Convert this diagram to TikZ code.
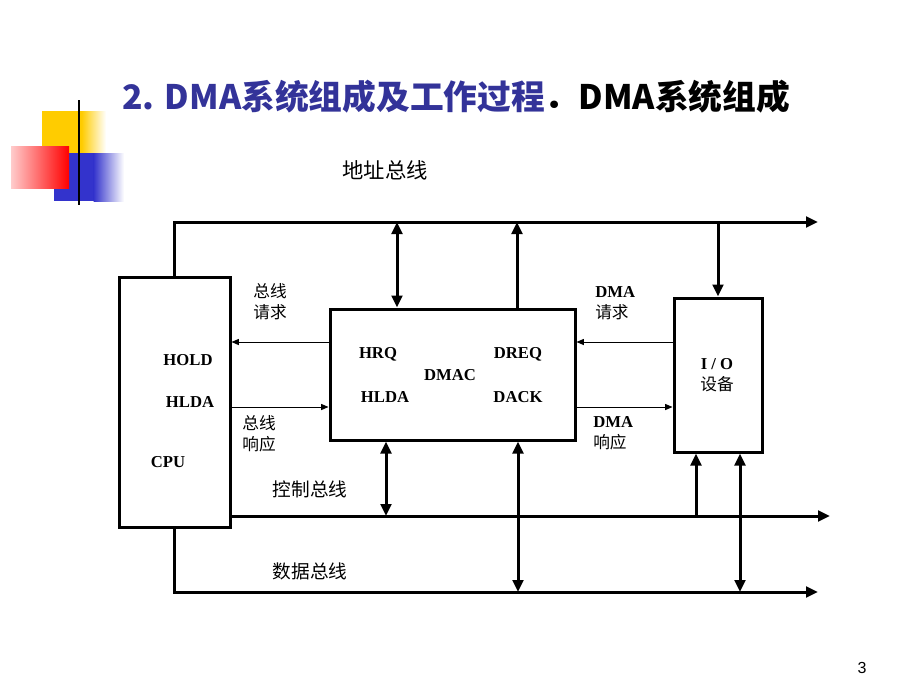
\documentclass[tikz,border=0pt]{standalone}
\usepackage{fontspec}
\setmainfont{Liberation Serif}
\setsansfont{Liberation Sans}
\newfontfamily\cjk{Noto Sans CJK SC}
\usetikzlibrary{arrows.meta,fit}
\definecolor{tblue}{RGB}{51,51,153}
\definecolor{dyellow}{RGB}{255,204,0}
\definecolor{dred}{RGB}{255,0,0}
\definecolor{dblue}{RGB}{51,51,204}
\tikzset{
  box/.style={draw, line width=2.25pt, inner sep=0pt},
  bus/.style={line width=2.25pt},
  sig/.style={line width=0.75pt},
  big/.style={-{Triangle[length=9pt,width=8pt]}},
  bigboth/.style={{Triangle[length=9pt,width=8pt]}-{Triangle[length=9pt,width=8pt]}},
  small/.style={-{Triangle[length=5.5pt,width=4.5pt]}},
  lat/.style={font=\fontsize{12.5}{15}\selectfont\bfseries, inner sep=0pt},
  zh/.style={font=\fontsize{12.5}{15.75}\selectfont\cjk, inner sep=0pt, align=center},
  mixed/.style={font=\fontsize{12.5}{15.75}\selectfont, inner sep=0pt},
  buslabel/.style={font=\fontsize{14}{16}\selectfont\cjk, inner sep=0pt},
}
\begin{document}
\begin{tikzpicture}[x=0.75pt,y=-0.75pt]
\path[use as bounding box, fill=white] (0,0) rectangle (920,690);

% decoration
\fill[dyellow] (42,111) rectangle (82,165);
\shade[left color=dyellow, right color=white] (81.5,111) rectangle (106,165);
\fill[dblue] (54,153) rectangle (94,201);
\shade[left color=dblue, right color=white] (93.5,153) rectangle (124,201);
\shade[left color=dred!20, right color=dred] (11,146) rectangle (69,188);
\draw[line width=1.5pt] (79,100) -- (79,205);

% title
\node[anchor=west, inner sep=0pt, font=\fontsize{25.3}{29}\selectfont\cjk\bfseries] (title) at (122,97)
  {\textcolor{tblue}{2. DMA系统组成及工作过程}．DMA系统组成};

\node[buslabel, font=\fontsize{16}{18}\selectfont\cjk] (abl) at (385,170) {地址总线};

% boxes
\node[box, fit={(119,277) (230,527)}] (cpu) {};
\node[box, fit={(330,309) (575,440)}] (dmac) {};
\node[box, fit={(674,298) (762,452)}] (io) {};

% bus end coordinates
\coordinate (ab) at (818,222);
\coordinate (cb) at (830,516);
\coordinate (db) at (818,592);
\coordinate (a1) at (397,222);
\coordinate (a2) at (517,222);
\coordinate (a3) at (718,222);
\coordinate (c1) at (386,516);
\coordinate (d1) at (518,592);
\coordinate (c2) at (696,516);
\coordinate (d2) at (740,592);
\coordinate (r1) at (0,342);
\coordinate (r2) at (0,407);

% buses
\draw[bus,big] (cpu.north) |- (ab);
\draw[bus,big] (cpu.east |- cb) -- (cb);
\draw[bus,big] (cpu.south) |- (db);

\draw[bus,bigboth] (a1) -- (a1 |- dmac.north);
\draw[bus,big] (dmac.north -| a2) -- (a2);
\draw[bus,big] (a3) -- (a3 |- io.north);
\draw[bus,bigboth] (dmac.south -| c1) -- (c1);
\draw[bus,bigboth] (dmac.south -| d1) -- (d1);
\draw[bus,big] (c2) -- (c2 |- io.south);
\draw[bus,bigboth] (d2) -- (d2 |- io.south);

% signals
\draw[sig,small] (dmac.west |- r1) -- (cpu.east |- r1);
\draw[sig,small] (cpu.east |- r2) -- (dmac.west |- r2);
\draw[sig,small] (io.west |- r1) -- (dmac.east |- r1);
\draw[sig,small] (dmac.east |- r2) -- (io.west |- r2);

% labels
\node[zh] (breq) at (270,302) {总线\\请求};
\node[zh] (back) at (259,434) {总线\\响应};
\node[lat] (hold) at (188,360) {HOLD};
\node[lat] (hlda) at (190,402) {HLDA};
\node[lat] (cpul) at (168,462) {CPU};
\node[lat] (hrq) at (378,354) {HRQ};
\node[lat] (dreq) at (518,354) {DREQ};
\node[lat] (dmacl) at (450,375) {DMAC};
\node[lat] (hlda2) at (385,397) {HLDA};
\node[lat] (dack) at (518,397) {DACK};
\node[mixed, anchor=west, align=left] (dreql) at (595,303) {\textbf{DMA}\\{\cjk 请求}};
\node[mixed, anchor=west, align=left] (dackl) at (593,433) {\textbf{DMA}\\{\cjk 响应}};
\node[mixed, align=center] (iol) at (717,375) {\textbf{I / O}\\{\cjk 设备}};
\node[buslabel] (cbl) at (310,489) {控制总线};
\node[buslabel] (dbl) at (310,571) {数据总线};
\node[inner sep=0pt, font=\sffamily\fontsize{12}{14}\selectfont] (pg) at (862,668) {3};
\end{tikzpicture}
\end{document}
